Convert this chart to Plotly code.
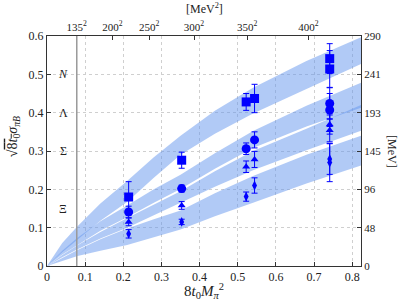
import plotly.graph_objects as go

# ---------------- data ----------------
x_pts = [0.214, 0.353, 0.522, 0.544, 0.741, 0.741]
N_val = [0.180, 0.276, 0.428, 0.437, 0.541, 0.514]
N_err = [0.040, 0.021, 0.022, 0.037, 0.039, 0.048]
L_val = [0.141, 0.202, 0.306, 0.329, 0.424, 0.407]
L_err = [0.015, 0.009, 0.015, 0.021, 0.041, 0.043]
S_val = [0.115, 0.158, 0.259, 0.278, 0.369, 0.354]
S_err = [0.010, 0.010, 0.015, 0.021, 0.025, 0.030]
X_val = [0.084, 0.115, 0.181, 0.210, 0.279, 0.270]
X_err = [0.011, 0.007, 0.012, 0.020, 0.040, 0.050]

band_x = [0, 0.04, 0.08, 0.14, 0.21, 0.28, 0.35, 0.44, 0.54, 0.68, 0.823]
N_hi = [0, 0.060, 0.104, 0.163, 0.222, 0.284, 0.340, 0.405, 0.465, 0.535, 0.597]
N_lo = [0, 0.036, 0.070, 0.118, 0.167, 0.230, 0.290, 0.345, 0.398, 0.462, 0.527]
L_hi = [0, 0.040, 0.074, 0.117, 0.158, 0.200, 0.238, 0.294, 0.352, 0.418, 0.478]
L_lo = [0, 0.030, 0.056, 0.092, 0.127, 0.165, 0.201, 0.254, 0.308, 0.364, 0.413]
S_hi = [0, 0.029, 0.054, 0.089, 0.125, 0.161, 0.195, 0.247, 0.300, 0.358, 0.420]
S_lo = [0, 0.023, 0.044, 0.072, 0.100, 0.133, 0.165, 0.207, 0.250, 0.302, 0.353]
X_hi = [0, 0.022, 0.042, 0.070, 0.098, 0.122, 0.145, 0.190, 0.235, 0.290, 0.340]
X_lo = [0, 0.013, 0.026, 0.040, 0.055, 0.075, 0.095, 0.130, 0.165, 0.215, 0.262]

y_ticks = [0, 0.1, 0.2, 0.3, 0.4, 0.5, 0.6]
mev_labels = ["0", "48", "96", "145", "193", "241", "290"]
x_ticks = [0, 0.1, 0.2, 0.3, 0.4, 0.5, 0.6, 0.7, 0.8]
top_mev = [135, 200, 250, 300, 350, 400]
scale_mev = 483.3  # 1/sqrt(8 t0) in MeV

baryon_labels = ["<i>N</i>", "Λ", "Σ", "Ξ"]
baryon_label_y = [0.5, 0.4, 0.3, 0.15]

# ---------------- figure ----------------
FONT = "Liberation Serif, Times New Roman, DejaVu Serif, serif"
BLUE = "#0000ff"
BAND = "rgba(100,149,237,0.5)"
XMAX = 0.823

fig = go.Figure()

for hi, lo in [(N_hi, N_lo), (L_hi, L_lo), (S_hi, S_lo), (X_hi, X_lo)]:
    fig.add_trace(go.Scatter(
        x=band_x + band_x[::-1], y=hi + lo[::-1],
        fill="toself", fillcolor=BAND, line=dict(width=0),
        mode="lines", hoverinfo="skip", showlegend=False))

mx = 135 ** 2 / scale_mev ** 2
fig.add_shape(type="line", x0=mx, x1=mx, y0=0, y1=0.6, xref="x", yref="y",
              line=dict(color="#999999", width=1.5))

for vals, errs, sym, size in [(N_val, N_err, "square", 9),
                              (L_val, L_err, "circle", 9),
                              (S_val, S_err, "triangle-up", 7),
                              (X_val, X_err, "diamond-tall", 7)]:
    fig.add_trace(go.Scatter(
        x=x_pts, y=vals, mode="markers",
        marker=dict(symbol=sym, size=size, color=BLUE, line=dict(width=0)),
        error_y=dict(type="data", array=errs, color=BLUE, thickness=1, width=3),
        showlegend=False))

# dummy trace to activate secondary axes
fig.add_trace(go.Scatter(x=[0], y=[0], xaxis="x2", yaxis="y2", mode="markers",
                         marker=dict(opacity=0), showlegend=False, hoverinfo="skip"))

tick_font = dict(family=FONT, size=12, color="#222")
small_font = dict(family=FONT, size=11, color="#222")
fig.update_layout(
    width=408, height=303,
    margin=dict(l=47, r=47, t=36, b=37),
    paper_bgcolor="white", plot_bgcolor="white",
    font=dict(family=FONT, color="#222"),
    xaxis=dict(range=[0, XMAX], tickvals=x_ticks, ticktext=[f"{v:g}" for v in x_ticks],
               ticks="inside", ticklen=4, tickcolor="#333",
               showgrid=True, gridcolor="#cfcfcf", griddash="dot", gridwidth=1,
               showline=True, linecolor="#333", linewidth=1,
               zeroline=False, tickfont=tick_font),
    yaxis=dict(range=[0, 0.6], tickvals=y_ticks, ticktext=[f"{v:g}" for v in y_ticks],
               ticks="inside", ticklen=4, tickcolor="#333",
               showgrid=True, gridcolor="#cfcfcf", griddash="dot", gridwidth=1,
               showline=True, linecolor="#333", linewidth=1,
               zeroline=False, tickfont=tick_font),
    xaxis2=dict(range=[0, XMAX], overlaying="x", side="top", anchor="y",
                tickvals=[m ** 2 / scale_mev ** 2 for m in top_mev],
                ticktext=[f"{m}<sup>2</sup>" for m in top_mev],
                ticks="inside", ticklen=4, tickcolor="#333",
                showgrid=False, zeroline=False, showline=True, linecolor="#333",
                linewidth=1, tickfont=small_font),
    yaxis2=dict(range=[0, 0.6], overlaying="y", side="right", anchor="x",
                tickvals=y_ticks, ticktext=mev_labels,
                ticks="inside", ticklen=4, tickcolor="#333",
                showgrid=False, zeroline=False, showline=True, linecolor="#333",
                linewidth=1, tickfont=small_font),
)

for txt, yv in zip(baryon_labels, baryon_label_y):
    fig.add_annotation(x=0.042, y=yv, xref="x", yref="y", text=txt, showarrow=False,
                       font=dict(family=FONT, size=12, color="#222"))

fig.add_annotation(x=0.5, y=1, xref="paper", yref="paper", yanchor="bottom",
                   yshift=18, text="[MeV<sup>2</sup>]", showarrow=False,
                   font=dict(family=FONT, size=12, color="#222"))
fig.add_annotation(x=0.5, y=0, xref="paper", yref="paper", yanchor="top",
                   yshift=-13,
                   text="8<i>t</i><sub>0</sub><i>M</i><sub><i>π</i></sub><sup>2</sup>",
                   showarrow=False, font=dict(family=FONT, size=15, color="#222"))
fig.add_annotation(x=0, y=0.56, xref="paper", yref="paper", xanchor="center",
                   xshift=-34, textangle=-90,
                   text="√<span style='text-decoration:overline'>8<i>t</i><sub>0</sub></span><i>σ</i><sub><i>πB</i></sub>",
                   showarrow=False, font=dict(family=FONT, size=14, color="#222"))
fig.add_annotation(x=1, y=0.5, xref="paper", yref="paper", xanchor="center",
                   xshift=31, textangle=90, text="[MeV]", showarrow=False,
                   font=dict(family=FONT, size=12, color="#222"))

fig.write_html("out.html", config={"displayModeBar": False},
               post_script="document.body.style.margin='0px';")
